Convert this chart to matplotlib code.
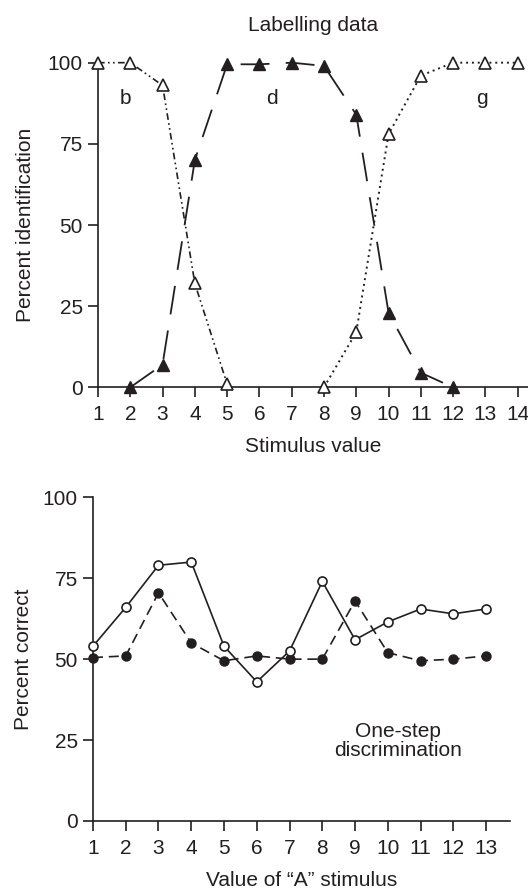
import matplotlib
matplotlib.use('Agg')
import matplotlib.pyplot as plt

plt.rcParams['font.family'] = ['Liberation Sans', 'DejaVu Sans']
plt.rcParams['font.size'] = 15
ink = '#231f20'

# labelling data
stim = [1, 2, 3, 4, 5, 6, 7, 8, 9, 10, 11, 12, 13, 14]
b_x = [1, 2, 3, 4, 5]
b_y = [100, 100, 93, 32, 1]
d_x = [2, 3, 4, 5, 6, 7, 8, 9, 10, 11, 12]
d_y = [0, 7, 70, 99.5, 99.5, 100, 99, 84, 23, 4.5, 0]
g_x = [8, 9, 10, 11, 12, 13, 14]
g_y = [0, 17, 78, 96, 100, 100, 100]
cat_labels = ['b', 'd', 'g']
cat_pos = [(1.85, 89), (6.4, 89), (12.9, 89)]

# one-step discrimination
a_val = [1, 2, 3, 4, 5, 6, 7, 8, 9, 10, 11, 12, 13]
open_pc = [54, 66, 79, 80, 54, 43, 52.5, 74, 56, 61.5, 65.5, 64, 65.5]
filled_pc = [50.5, 51, 70.5, 55, 49.5, 51, 50, 50, 68, 52, 49.5, 50, 51]
yticks = [0, 25, 50, 75, 100]

fig = plt.figure(figsize=(5.28, 8.89), dpi=100)

def style_axes(ax):
    for s in ['top', 'right']:
        ax.spines[s].set_visible(False)
    for s in ['left', 'bottom']:
        ax.spines[s].set_linewidth(1.2)
        ax.spines[s].set_color(ink)
    ax.tick_params(direction='out', length=7, width=1.2, color=ink, labelcolor=ink)
    ax.tick_params(axis='x', pad=6)
    ax.tick_params(axis='y', pad=4)
    ax.set_yticks(yticks)
    ax.set_ylim(0, 100)

# top panel
ax1 = fig.add_axes([0.1856, 0.5643, 0.8144, 0.3652])
style_axes(ax1)
ax1.set_xlim(1, 14.32)
ax1.set_xticks(stim)
ax1.plot(b_x, b_y, color=ink, lw=1.2, dashes=(4, 2, 1, 2, 1, 2), marker='^', ms=9,
         mfc='white', mec=ink, mew=1.2, clip_on=False, zorder=3)
ax1.plot(d_x, d_y, color=ink, lw=1.3, dashes=(16, 9), marker='^', ms=9,
         mfc=ink, mec=ink, clip_on=False, zorder=3)
ax1.plot(g_x, g_y, color=ink, lw=1.4, dashes=(1, 2), marker='^', ms=9,
         mfc='white', mec=ink, mew=1.2, clip_on=False, zorder=3)
for lab, (x, y) in zip(cat_labels, cat_pos):
    ax1.text(x, y, lab, ha='center', va='center', color=ink)
ax1.set_title('Labelling data', color=ink, fontsize=15, pad=23)
ax1.set_xlabel('Stimulus value', color=ink, labelpad=9)
ax1.set_ylabel('Percent identification', color=ink, labelpad=9)

# bottom panel
ax2 = fig.add_axes([0.1761, 0.0765, 0.7898, 0.3641])
style_axes(ax2)
ax2.set_xlim(1, 13.73)
ax2.set_xticks(a_val)
ax2.plot(a_val, open_pc, color=ink, lw=1.2, marker='o', ms=6.5,
         mfc='white', mec=ink, mew=1.2, clip_on=False, zorder=4)
ax2.plot(a_val, filled_pc, color=ink, lw=1.2, dashes=(6, 3.5), marker='o', ms=6.5,
         mfc=ink, mec=ink, clip_on=False, zorder=3)
ax2.text(10.3, 24.7, 'One-step\ndiscrimination', ha='center', va='center',
         color=ink, linespacing=1.05)
ax2.set_xlabel('Value of \u201cA\u201d stimulus', color=ink, labelpad=9)
ax2.set_ylabel('Percent correct', color=ink, labelpad=7)

fig.savefig('out.png', dpi=100)
